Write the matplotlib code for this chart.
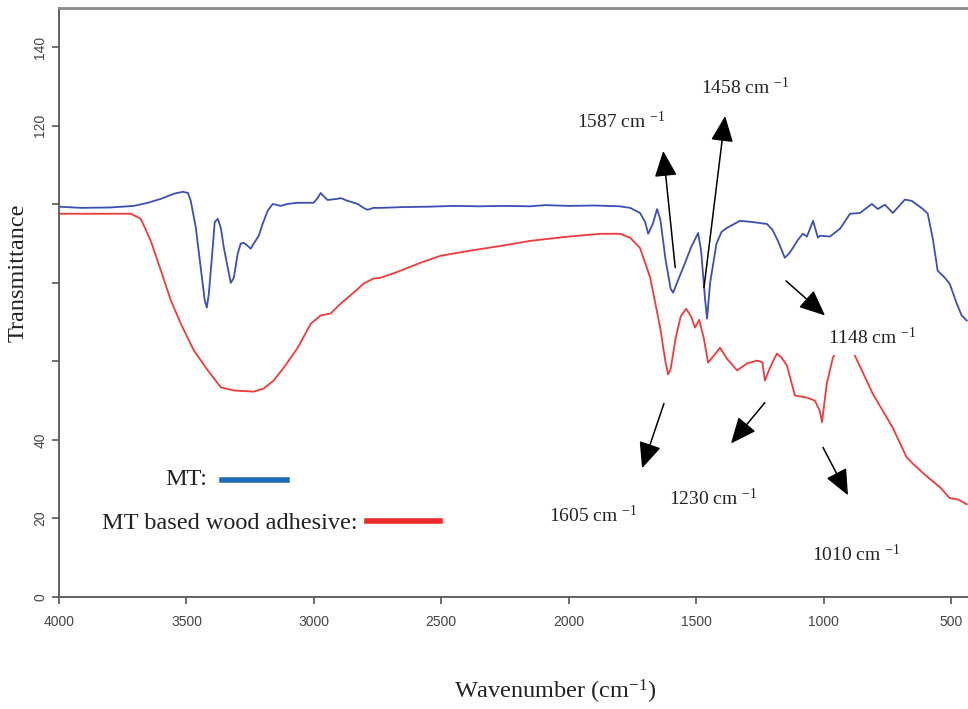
import matplotlib
matplotlib.use("Agg")
import matplotlib.pyplot as plt
from matplotlib.lines import Line2D

plt.rcParams["mathtext.fontset"] = "custom"
plt.rcParams["mathtext.rm"] = "Liberation Serif"
plt.rcParams["mathtext.it"] = "Liberation Serif:italic"

# FTIR spectrum, MT
wn_mt = [4000, 3914, 3800, 3706, 3651, 3600, 3549, 3514, 3494, 3483, 3463, 3444, 3428, 3420,
         3412, 3397, 3389, 3377, 3365, 3353, 3338, 3326, 3314, 3299, 3287, 3275, 3259, 3248,
         3236, 3216, 3201, 3181, 3161, 3130, 3103, 3063, 3001, 2985, 2973, 2962, 2946, 2907,
         2895, 2868, 2828, 2805, 2789, 2766, 2738, 2650, 2550, 2450, 2350, 2250, 2150, 2092,
         2000, 1900, 1800, 1759, 1720, 1700, 1688, 1670, 1653, 1640, 1620, 1600, 1590, 1575,
         1550, 1520, 1492, 1480, 1465, 1457, 1445, 1420, 1400, 1379, 1328, 1280, 1222, 1200,
         1179, 1152, 1135, 1120, 1100, 1081, 1065, 1041, 1022, 1014, 975, 935, 896, 857,
         810, 787, 759, 728, 681, 654, 610, 591, 571, 552, 524, 505, 477, 458, 438]
tr_mt = [99.4, 99.1, 99.2, 99.6, 100.4, 101.4, 102.7, 103.2, 102.9, 100.9, 94.0, 83.9, 75.5, 73.7,
         77.2, 88.9, 95.5, 96.3, 94.0, 88.9, 83.9, 80.0, 81.3, 87.4, 90.0, 90.2, 89.4, 88.7,
         90.0, 92.0, 95.0, 98.4, 100.1, 99.6, 100.1, 100.4, 100.4, 101.6, 102.9, 102.1, 101.1, 101.4,
         101.6, 100.9, 100.1, 99.1, 98.6, 99.1, 99.1, 99.3, 99.4, 99.6, 99.5, 99.6, 99.5, 99.8,
         99.6, 99.7, 99.5, 99.1, 97.8, 95.5, 92.5, 95.0, 98.8, 96.0, 86.0, 78.5, 77.5, 80.0,
         84.0, 89.0, 92.7, 88.0, 76.0, 70.9, 80.0, 90.0, 93.0, 94.0, 95.8, 95.5, 95.0, 93.5,
         90.7, 86.4, 87.5, 88.9, 91.0, 92.5, 91.8, 95.8, 91.5, 92.0, 91.8, 93.8, 97.6, 97.8,
         100.1, 98.8, 99.9, 97.8, 101.2, 100.9, 98.8, 97.6, 91.2, 83.1, 81.3, 79.8, 74.7, 71.7, 70.4]

# FTIR spectrum, MT based wood adhesive
wn_adh = [4000, 3914, 3718, 3679, 3640, 3600, 3561, 3522, 3471, 3416, 3365, 3314, 3236, 3197,
          3158, 3118, 3063, 3012, 2973, 2934, 2895, 2844, 2805, 2766, 2738, 2680, 2582, 2503,
          2386, 2268, 2150, 2014, 1876, 1798, 1759, 1720, 1680, 1641, 1621, 1610, 1600, 1580,
          1560, 1539, 1520, 1504, 1488, 1470, 1453, 1430, 1406, 1390, 1379, 1339, 1300, 1261,
          1240, 1230, 1210, 1183, 1165, 1144, 1112, 1065, 1034, 1015, 1006, 987, 963, 940,
          915, 877, 807, 729, 674, 650, 600, 544, 505, 470, 438]
tr_adh = [97.6, 97.6, 97.6, 96.3, 90.7, 83.1, 75.5, 69.6, 62.8, 57.7, 53.4, 52.6, 52.3, 53.1,
          55.1, 58.4, 63.5, 69.6, 71.7, 72.2, 74.7, 77.5, 79.8, 81.1, 81.3, 82.6, 85.1, 86.9,
          88.2, 89.4, 90.7, 91.7, 92.5, 92.5, 91.5, 88.9, 81.3, 68.6, 60.2, 56.7, 58.0, 66.0,
          71.5, 73.4, 71.5, 68.6, 70.6, 66.0, 59.7, 61.5, 63.5, 61.8, 60.7, 57.7, 59.5, 60.2,
          59.8, 55.1, 58.4, 62.0, 61.0, 59.0, 51.3, 50.8, 50.0, 47.5, 44.5, 54.4, 61.0, 64.0,
          65.0, 61.5, 51.8, 43.2, 35.6, 34.0, 31.0, 28.0, 25.2, 24.8, 23.6]

x_ticks = [4000, 3500, 3000, 2500, 2000, 1500, 1000, 500]
y_ticks = [0, 20, 40, 60, 80, 100, 120, 140]
y_ticklabels = ["0", "20", "40", "", "", "", "120", "140"]

# peak label, label position, arrow tail, arrow head
callouts = [
    ("1587", (1794, 121.2), (1582, 83.9), (1629, 113.6)),
    ("1458", (1308, 129.8), (1469, 78.8), (1386, 122.5)),
    ("1148", (810, 66.1), (1147, 80.5), (994, 71.7)),
    ("1605", (1904, 20.8), (1626, 49.3), (1712, 32.8)),
    ("1230", (1434, 25.2), (1230, 49.5), (1363, 39.1)),
    ("1010", (873, 10.7), (1002, 38.1), (904, 25.9)),
]

blue = "#3d4fb5"
red = "#f23a3a"
serif = "Liberation Serif"

fig = plt.figure(figsize=(9.68, 7.09), dpi=100)
ax = fig.add_axes([59 / 968, 112 / 709, 909 / 968, 589 / 709])

ax.plot(wn_mt, tr_mt, color=blue, lw=1.3)
ax.plot(wn_adh, tr_adh, color=red, lw=1.3)

ax.set_xlim(4000, 433)
ax.set_ylim(0, 150)
ax.set_xticks(x_ticks)
ax.set_xticklabels([str(t) for t in x_ticks], fontsize=10, color="#444444",
                   family="Liberation Sans")
ax.set_yticks(y_ticks)
ax.set_yticklabels(y_ticklabels, fontsize=10, color="#444444", family="Liberation Sans",
                   rotation=90, va="center")
ax.tick_params(direction="out", length=5, color="#555555", width=1.2)
ax.tick_params(axis="x", pad=8)

ax.spines["right"].set_visible(False)
ax.spines["left"].set_color("#555555")
ax.spines["bottom"].set_color("#555555")
ax.spines["top"].set_color("#8a8a8a")
ax.spines["left"].set_linewidth(1.3)
ax.spines["bottom"].set_linewidth(1.3)
ax.spines["top"].set_linewidth(2.0)

ax.set_xlabel("Wavenumber (cm$^{-1}$)", fontsize=17.5, family=serif, color="#222222")
ax.xaxis.set_label_coords(0.546, -0.138)
ax.set_ylabel("Transmittance", fontsize=17.5, family=serif, color="#222222")
ax.yaxis.set_label_coords(-0.033, 0.55)

for label, txt_pos, tail, head in callouts:
    ax.annotate("", xy=head, xytext=tail,
                arrowprops=dict(arrowstyle="-|>,head_length=0.8,head_width=0.35",
                                color="black", lw=1.1, mutation_scale=20,
                                shrinkA=0, shrinkB=0))
    ax.text(txt_pos[0], txt_pos[1], label + " cm $^{-1}$", fontsize=14, family=serif,
            color="#222222", ha="center", va="center", zorder=4,
            bbox=dict(boxstyle="square,pad=0.35", facecolor="white", edgecolor="none"))

# hand-drawn style legend: text followed by a line sample
ax.text(0.163, 0.199, "MT:", transform=ax.transAxes, fontsize=17.5, family=serif,
        color="#222222", ha="right", va="center")
ax.add_line(Line2D([0.179, 0.251], [0.199, 0.199], transform=ax.transAxes,
                   color="#1f6bb5", lw=4))
ax.text(0.328, 0.124, "MT based wood adhesive:", transform=ax.transAxes, fontsize=17.5,
        family=serif, color="#222222", ha="right", va="center")
ax.add_line(Line2D([0.339, 0.419], [0.129, 0.129], transform=ax.transAxes,
                   color="#ee2b2b", lw=4))

fig.savefig("out.png", dpi=100)
